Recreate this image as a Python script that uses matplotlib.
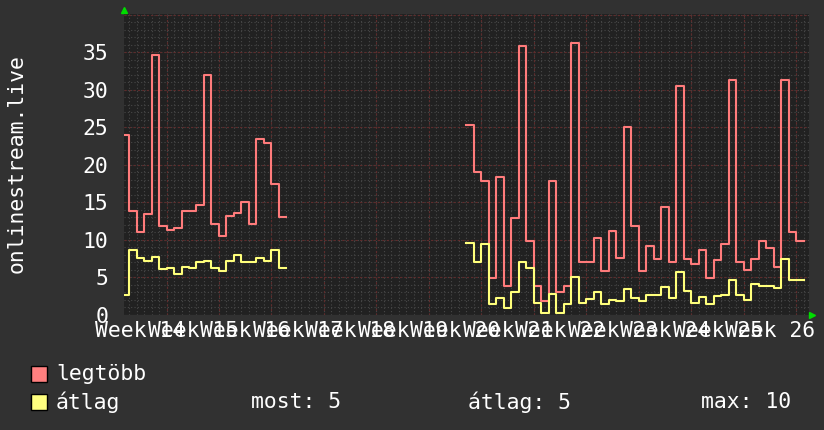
import numpy as np
import matplotlib
matplotlib.use('Agg')
import matplotlib.pyplot as plt
from matplotlib.patches import Rectangle

plt.rcParams['font.family'] = ['DejaVu Sans Mono', 'DejaVu Sans']

# daily values, first value is the partial day before day 0
max_block1 = [24, 13.9, 11.1, 13.5, 34.7, 11.9, 11.3, 11.6, 13.8, 13.9, 14.6,
              32.0, 12.1, 10.5, 13.2, 13.6, 15.0, 12.1, 23.5, 22.9, 17.5, 13.1]
avg_block1 = [2.7, 8.6, 7.65, 7.2, 7.7, 6.1, 6.2, 5.5, 6.35, 6.2, 7.0,
              7.25, 6.3, 5.8, 7.25, 8.0, 7.1, 7.0, 7.55, 7.25, 8.6, 6.3]
gap_days = 24
max_block2 = [25.3, 19.0, 17.9, 4.9, 18.45, 3.9, 12.9, 35.8, 9.9, 3.9, 1.9,
              17.9, 3.0, 3.9, 36.3, 7.1, 7.0, 10.2, 5.9, 11.25, 7.6, 25.0,
              11.9, 5.9, 9.25, 7.5, 14.45, 7.0, 30.45, 7.5, 6.8, 8.7, 4.9,
              7.3, 9.4, 31.3, 7.0, 5.95, 7.5, 9.9, 8.9, 6.45, 31.3, 11.0, 9.9]
avg_block2 = [9.65, 7.0, 9.4, 1.4, 2.2, 0.9, 3.1, 7.0, 6.3, 1.55, 0.2,
              2.75, 0.3, 1.4, 5.0, 1.65, 2.1, 3.0, 1.47, 2.0, 1.8, 3.4,
              2.2, 1.9, 2.67, 2.67, 3.7, 2.2, 5.7, 3.25, 1.65, 2.45, 1.4,
              2.5, 2.6, 4.6, 2.7, 2.05, 4.1, 3.9, 3.9, 3.6, 7.5, 4.6, 4.6]
week_labels = ['Week %d' % w for w in range(14, 27)]
yticks = [0, 5, 10, 15, 20, 25, 30, 35]

gap = [np.nan] * gap_days
legtobb = np.array(max_block1 + gap + max_block2)
atlag = np.array(avg_block1 + gap + avg_block2)
days = np.arange(-1, len(legtobb) - 1)
# repeat the last value so the final step is drawn to its end
x = np.append(days, days[-1] + 1)
legtobb = np.append(legtobb, legtobb[-1])
atlag = np.append(atlag, atlag[-1])

W, H = 824, 430
fig = plt.figure(figsize=(W / 100, H / 100), dpi=100, facecolor='#313131')
ax = fig.add_axes([124 / W, 1 - 315 / H, (809 - 124) / W, (315 - 14) / H])
ax.set_facecolor('#212121')
ax.set_xlim(-0.667, 90.67)
ax.set_ylim(0, 40.1)

# grid
ax.vlines(np.arange(0, 91), 0, 40.1, colors='#484848', lw=0.8, linestyles=(0, (1, 2)))
ax.hlines(np.arange(1, 41), -0.667, 90.67, colors='#484848', lw=0.8, linestyles=(0, (1, 2)))
ax.vlines(np.arange(5, 91, 7), 0, 40.1, colors='#5e2b2b', lw=0.8, linestyles=(0, (2, 2)))
ax.hlines(np.arange(5, 41, 5), -0.667, 90.67, colors='#5e2b2b', lw=0.8, linestyles=(0, (2, 2)))

ax.step(x, legtobb, where='post', color='#ff7b7b', lw=1.5)
ax.step(x, atlag, where='post', color='#ffff7b', lw=1.5)

for s in ax.spines.values():
    s.set_visible(False)
ax.axhline(0, color='#555555', lw=0.8)

ax.set_yticks(yticks)
ax.set_yticklabels([str(v) for v in yticks])
ax.set_xticks(np.arange(1.5, 1.5 + 7 * len(week_labels), 7))
ax.set_xticklabels(week_labels)
ax.tick_params(length=0, colors='white', labelsize=15.4)
ax.tick_params(axis='y', pad=11.5)
ax.tick_params(axis='x', pad=4)
ax.set_ylabel('onlinestream.live', color='white', fontsize=15.4)
ax.yaxis.set_label_coords(-0.142, 0.502)

# green arrows
ax.plot([-0.667], [40.65], marker='^', color='#00dd00', ms=5, clip_on=False)
ax.plot([91.1], [0], marker='>', color='#00dd00', ms=5, clip_on=False)

# legend
fig.patches.append(Rectangle((31 / W, 1 - 382 / H), 16 / W, 16 / H, transform=fig.transFigure,
                             facecolor='#ff7f7f', edgecolor='black', lw=1))
fig.patches.append(Rectangle((31 / W, 1 - 410 / H), 16 / W, 16 / H, transform=fig.transFigure,
                             facecolor='#ffff7f', edgecolor='black', lw=1))
fs = 15.4
fig.text(56 / W, 1 - 374 / H, 'legtöbb', color='white', fontsize=fs, va='center')
fig.text(56 / W, 1 - 402 / H, 'átlag', color='white', fontsize=fs, va='center')
fig.text(251 / W, 1 - 402 / H, 'most: 5', color='white', fontsize=fs, va='center')
fig.text(468 / W, 1 - 402 / H, 'átlag: 5', color='white', fontsize=fs, va='center')
fig.text(701 / W, 1 - 402 / H, 'max: 10', color='white', fontsize=fs, va='center')

fig.savefig('out.png', dpi=100, facecolor=fig.get_facecolor())
